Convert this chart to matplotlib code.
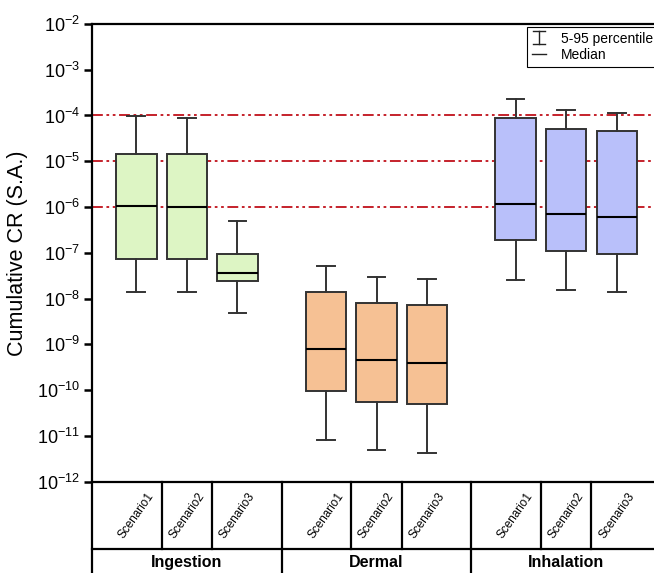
import matplotlib
matplotlib.use('Agg')
import matplotlib.pyplot as plt
from matplotlib.lines import Line2D
from matplotlib.ticker import LogLocator, LogFormatterMathtext, NullLocator

plt.rcParams['font.family'] = ['Liberation Sans', 'DejaVu Sans']
plt.rcParams['mathtext.fontset'] = 'custom'
plt.rcParams['mathtext.rm'] = 'Liberation Sans'
plt.rcParams['mathtext.it'] = 'Liberation Sans:italic'
plt.rcParams['mathtext.bf'] = 'Liberation Sans:bold'

routes = ['Ingestion', 'Dermal', 'Inhalation']
scenarios = ['Scenario1', 'Scenario2', 'Scenario3']
route_colors = ['#ddf5c4', '#f6c194', '#b9c0fa']

# percentiles of cumulative CR, one list per route, one value per scenario
p05 = [[1.4e-8, 1.4e-8, 4.8e-9],
       [8.1e-12, 4.9e-12, 4.3e-12],
       [2.6e-8, 1.55e-8, 1.4e-8]]
p25 = [[7.4e-8, 7.4e-8, 2.4e-8],
       [9.8e-11, 5.6e-11, 5.0e-11],
       [1.9e-7, 1.1e-7, 9.6e-8]]
p50 = [[1.07e-6, 1.02e-6, 3.7e-8],
       [7.8e-10, 4.6e-10, 3.9e-10],
       [1.17e-6, 7.1e-7, 6.2e-7]]
p75 = [[1.45e-5, 1.45e-5, 9.5e-8],
       [1.4e-8, 8.0e-9, 7.1e-9],
       [8.7e-5, 5.1e-5, 4.5e-5]]
p95 = [[9.7e-5, 8.7e-5, 5.0e-7],
       [5.1e-8, 3.0e-8, 2.7e-8],
       [2.3e-4, 1.3e-4, 1.15e-4]]

thresholds = [1e-4, 1e-5, 1e-6]


class PercentileHandler(object):
    # draws an "I" shaped whisker symbol in the legend
    def legend_artist(self, legend, orig_handle, fontsize, handlebox):
        x0, y0 = handlebox.xdescent, handlebox.ydescent
        width, height = handlebox.width, handlebox.height
        xc = x0 + width / 2
        cap = 4.5
        ylo, yhi = y0 - 1, y0 + height + 1
        lines = [
            Line2D([xc, xc], [ylo, yhi], color='#222222', lw=1.0),
            Line2D([xc - cap, xc + cap], [ylo, ylo], color='#222222', lw=1.0),
            Line2D([xc - cap, xc + cap], [yhi, yhi], color='#222222', lw=1.0),
        ]
        for ln in lines:
            ln.set_transform(handlebox.get_transform())
            handlebox.add_artist(ln)
        return lines[0]


fig = plt.figure(figsize=(6.54, 5.73), dpi=100)
ax = fig.add_axes([0.1407, 0.1594, 0.870, 0.7988])

for level in thresholds:
    ax.axhline(level, color='#c0101a', lw=1.3, ls=(0, (6, 2, 1.5, 2, 1.5, 2)), zorder=1)

for i, route in enumerate(routes):
    stats = []
    positions = []
    for j in range(len(scenarios)):
        stats.append(dict(whislo=p05[i][j], q1=p25[i][j], med=p50[i][j],
                          q3=p75[i][j], whishi=p95[i][j], fliers=[]))
        positions.append(3 * i + 0.7 + 0.8 * j)
    ax.bxp(stats, positions=positions, widths=0.64, capwidths=0.28,
           showfliers=False, patch_artist=True, manage_ticks=False,
           boxprops=dict(facecolor=route_colors[i], edgecolor='#333333', lw=1.4),
           medianprops=dict(color='black', lw=1.5),
           whiskerprops=dict(color='#333333', lw=1.4),
           capprops=dict(color='#333333', lw=1.4),
           zorder=3)

ax.set_yscale('log')
ax.set_ylim(1e-12, 1e-2)
ax.set_xlim(0, 9)
ax.yaxis.set_major_locator(LogLocator(base=10, numticks=20))
ax.yaxis.set_major_formatter(LogFormatterMathtext())
ax.yaxis.set_minor_locator(NullLocator())
ax.set_xticks([])
ax.tick_params(axis='y', which='major', direction='out', length=5.8, width=1.8,
               labelsize=13, pad=3)
for side in ['left', 'right', 'top', 'bottom']:
    ax.spines[side].set_linewidth(1.6)
ax.set_ylabel('Cumulative CR (S.A.)', fontsize=15.5, labelpad=6)

# category table under the axis
tr = ax.get_xaxis_transform()
row_y = -0.147
bottom_y = -0.22
ax.plot([0, 9], [row_y, row_y], transform=tr, color='black', lw=1.6, clip_on=False)
for i, route in enumerate(routes):
    ax.plot([3 * i, 3 * i], [0, bottom_y], transform=tr, color='black', lw=1.6, clip_on=False)
    for b in (1.1, 1.9):
        ax.plot([3 * i + b, 3 * i + b], [0, row_y], transform=tr, color='black', lw=1.6, clip_on=False)
    for j, name in enumerate(scenarios):
        ax.text(3 * i + 0.7 + 0.8 * j, row_y / 2, name, transform=tr, rotation=55,
                ha='center', va='center', fontsize=8.5, rotation_mode='anchor')
    ax.text(3 * i + 1.5, -0.177, route, transform=tr, ha='center', va='center',
            fontsize=11.5, fontweight='bold')

handles = ['pct', Line2D([], [], color='#222222', lw=1.0)]
leg = ax.legend(handles, ['5-95 percentile', 'Median'],
                handler_map={str: PercentileHandler()},
                loc='upper right', bbox_to_anchor=(1.0, 1.0), borderaxespad=0.2,
                fontsize=10, frameon=True, fancybox=False, edgecolor='black',
                framealpha=1, handlelength=1.0, handletextpad=1.1,
                borderpad=0.35, labelspacing=0.15)
leg.get_frame().set_linewidth(0.8)

fig.savefig('out.png', dpi=100)
